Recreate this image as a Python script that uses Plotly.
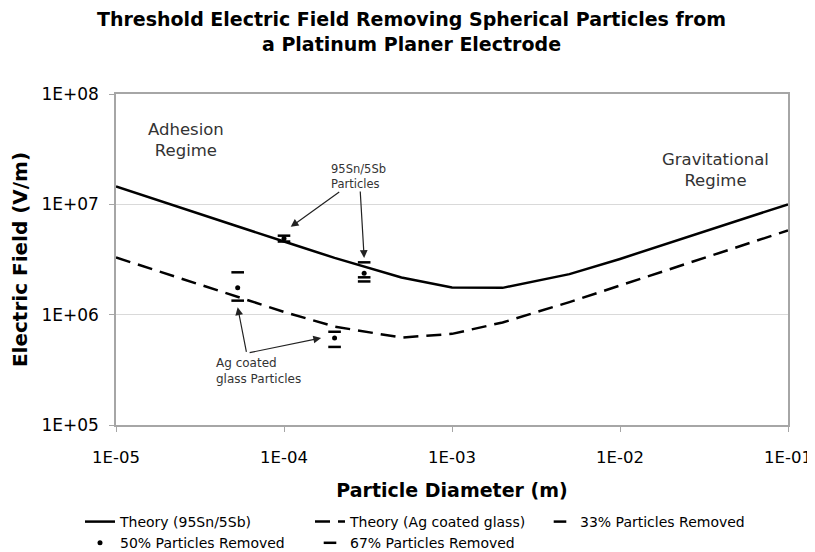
import numpy as np
import plotly.graph_objects as go

# ---- data ----
diam_theory = [1e-5, 2e-5, 5e-5, 1e-4, 2e-4, 5e-4, 1e-3, 2e-3, 5e-3, 1e-2, 2e-2, 5e-2, 1e-1]
e_theory_sn = [1.45e7, 1.02e7, 6.5e6, 4.6e6, 3.27e6, 2.17e6, 1.76e6, 1.75e6, 2.33e6, 3.2e6, 4.5e6, 7.07e6, 1.0e7]
e_theory_ag = [3.3e6, 2.34e6, 1.48e6, 1.06e6, 7.8e5, 6.2e5, 6.7e5, 8.5e5, 1.3e6, 1.84e6, 2.6e6, 4.1e6, 5.8e6]

diam_33 = [1e-4, 3e-4, 5.3e-5, 2e-4]
e_33 = [5.2e6, 2.98e6, 2.42e6, 7.0e5]
diam_50 = [1e-4, 3e-4, 5.3e-5, 2e-4]
e_50 = [4.9e6, 2.37e6, 1.75e6, 6.15e5]
diam_67 = [1e-4, 3e-4, 3e-4, 5.3e-5, 2e-4]
e_67 = [4.6e6, 2.18e6, 2.0e6, 1.34e6, 5.1e5]

x_tick_vals = [1e-5, 1e-4, 1e-3, 1e-2, 1e-1]
x_tick_text = ["1E-05", "1E-04", "1E-03", "1E-02", "1E-01"]
y_tick_vals = [1e5, 1e6, 1e7, 1e8]
y_tick_text = ["1E+05", "1E+06", "1E+07", "1E+08"]

FONT = "DejaVu Sans"
# page has an 8px body margin, so the figure is drawn 8px smaller
W, H = 807, 544
L, R, T, B = 108, 27, 86, 127
PW, PH = W - L - R, H - T - B

# helpers: page pixel -> paper fraction of plot area
def px(xp):
    return (xp - 116) / PW


def py(yp):
    return (425 - yp) / PH


fig = go.Figure()
fig.add_trace(go.Scatter(x=diam_theory, y=e_theory_sn, mode="lines",
                         name="Theory (95Sn/5Sb)",
                         line=dict(color="black", width=2.5)))
fig.add_trace(go.Scatter(x=diam_theory, y=e_theory_ag, mode="lines",
                         name="Theory (Ag coated glass)",
                         line=dict(color="black", width=2.5, dash="15px,8px")))
fig.add_trace(go.Scatter(x=diam_33, y=e_33, mode="markers",
                         name="33% Particles Removed",
                         marker=dict(symbol="line-ew", size=9, color="black",
                                     line=dict(color="black", width=2.5))))
fig.add_trace(go.Scatter(x=diam_50, y=e_50, mode="markers",
                         name="50% Particles Removed",
                         marker=dict(symbol="circle", size=5, color="black")))
fig.add_trace(go.Scatter(x=diam_67, y=e_67, mode="markers",
                         name="67% Particles Removed",
                         marker=dict(symbol="line-ew", size=9, color="black",
                                     line=dict(color="black", width=2.5))))

annotations = []
txtcol = "#333333"
annotations.append(dict(xref="paper", yref="paper", x=px(186), y=py(140),
                        xanchor="center", yanchor="middle",
                        text="Adhesion<br>Regime", showarrow=False,
                        font=dict(family=FONT, size=16.5, color=txtcol)))
annotations.append(dict(xref="paper", yref="paper", x=px(715), y=py(170),
                        xanchor="center", yanchor="middle",
                        text="Gravitational<br>Regime", showarrow=False,
                        font=dict(family=FONT, size=16.5, color=txtcol)))
annotations.append(dict(xref="paper", yref="paper", x=px(329), y=py(176),
                        xanchor="left", yanchor="middle", align="left",
                        text="95Sn/5Sb<br>Particles", showarrow=False,
                        font=dict(family=FONT, size=11.5, color=txtcol)))
annotations.append(dict(xref="paper", yref="paper", x=px(214), y=py(371),
                        xanchor="left", yanchor="middle", align="left",
                        text="Ag coated<br>glass Particles", showarrow=False,
                        font=dict(family=FONT, size=12, color=txtcol)))

# arrows (tips at the measured clusters)
arrow_style = dict(showarrow=True, arrowhead=2, arrowsize=1.3, arrowwidth=1.2,
                   arrowcolor="#222222", text="", xref="x", yref="y")
annotations.append(dict(x=np.log10(diam_33[0]) + 0.04, y=np.log10(e_33[0]) + 0.08,
                        ax=50, ay=-36, **arrow_style))
annotations.append(dict(x=np.log10(diam_33[1]), y=np.log10(e_33[1]) + 0.04,
                        ax=-4, ay=-68, **arrow_style))
annotations.append(dict(x=np.log10(diam_67[3]), y=np.log10(e_67[3]) - 0.06,
                        ax=9, ay=46, **arrow_style))
annotations.append(dict(x=np.log10(diam_50[3]) - 0.08, y=np.log10(e_50[3]),
                        ax=-73, ay=15, **arrow_style))

fig.update_layout(
    width=W, height=H,
    margin=dict(l=L, r=R, t=T, b=B, autoexpand=False),
    paper_bgcolor="white", plot_bgcolor="white",
    font=dict(family=FONT, color="black"),
    title=dict(text="Threshold Electric Field Removing Spherical Particles from<br>a Platinum Planer Electrode",
               x=0.5, xref="container", xanchor="center",
               y=1 - 18 / H, yref="container", yanchor="middle",
               font=dict(family=FONT, size=19, color="black", weight="bold")),
    showlegend=True,
    legend=dict(orientation="h", x=px(80), xanchor="left", y=py(506), yanchor="top",
                entrywidth=185, entrywidthmode="pixels",
                font=dict(family=FONT, size=14, color="black"),
                bgcolor="rgba(0,0,0,0)", traceorder="normal"),
    annotations=annotations,
)
fig.update_xaxes(type="log", range=[-5, -1], tickvals=x_tick_vals, ticktext=x_tick_text,
                 showgrid=False, showline=True, linecolor="#a6a6a6", linewidth=1.5,
                 mirror=True, ticks="outside", ticklen=5, tickcolor="#a6a6a6",
                 ticklabelstandoff=11, ticklabeloverflow="allow",
                 tickfont=dict(family=FONT, size=16.5, color="black"),
                 title=dict(text="<b>Particle Diameter (m)</b>", standoff=18,
                            font=dict(family=FONT, size=19, color="black")),
                 zeroline=False)
fig.update_yaxes(type="log", range=[5, 8], tickvals=y_tick_vals, ticktext=y_tick_text,
                 showgrid=True, gridcolor="#d9d9d9", gridwidth=1,
                 showline=True, linecolor="#a6a6a6", linewidth=1.5,
                 mirror=True, ticks="outside", ticklen=5, tickcolor="#a6a6a6",
                 ticklabelstandoff=7,
                 tickfont=dict(family=FONT, size=17, color="black"),
                 title=dict(text="<b>Electric Field (V/m)</b>", standoff=16,
                            font=dict(family=FONT, size=20, color="black")),
                 zeroline=False)

fig.write_html("out.html")
